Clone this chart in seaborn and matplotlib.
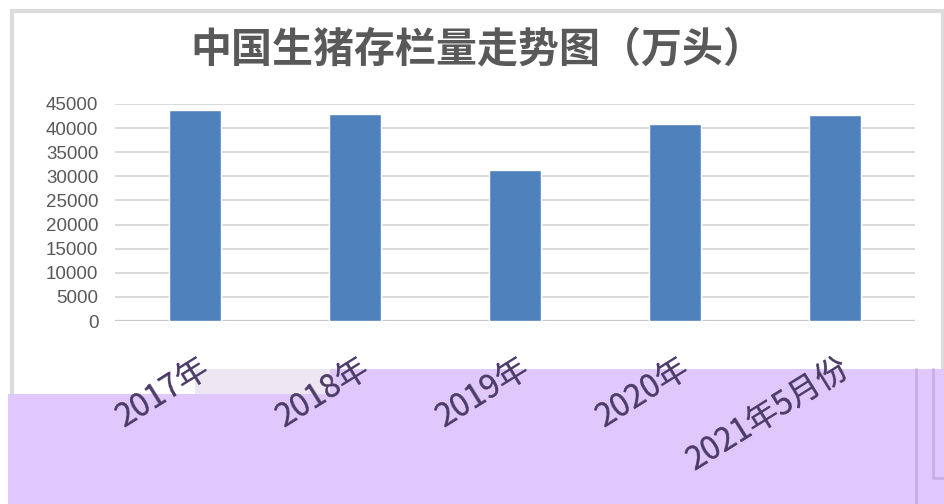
import matplotlib
matplotlib.use("Agg")
import matplotlib.pyplot as plt
import matplotlib.transforms as mtransforms
import seaborn as sns
import pandas as pd
from matplotlib.patches import Rectangle, Polygon
from matplotlib.lines import Line2D

categories = ["2017年", "2018年", "2019年", "2020年", "2021年5月份"]
values = [43700, 42900, 31300, 40800, 42700]
yticks = [0, 5000, 10000, 15000, 20000, 25000, 30000, 35000, 40000, 45000]
title = "中国生猪存栏量走势图（万头）"

sns.set_theme(style="white")
plt.rcParams['font.family'] = ['Noto Sans CJK SC', 'DejaVu Sans']

W, H = 945, 504
fig = plt.figure(figsize=(W / 100, H / 100), dpi=100, facecolor="white")

def fx(px):
    return px / W

def fy(py):
    return 1 - py / H

ax = fig.add_axes([fx(115), fy(321), fx(915) - fx(115), fy(104) - fy(321)])
df = pd.DataFrame({"cat": categories, "val": values})
sns.barplot(data=df, x="cat", y="val", color="#4F81BD", width=0.32,
            saturation=1, ax=ax, zorder=3)
ax.set_xlim(-0.5, 4.5)
ax.set_ylim(0, 45000)
ax.set_yticks(yticks)
ax.set_yticklabels([str(v) for v in yticks], fontsize=13.5, color="#595959",
                   family=['Liberation Sans', 'DejaVu Sans'])
ax.set_xlabel("")
ax.set_ylabel("")
for s in ax.spines.values():
    s.set_visible(False)
ax.yaxis.grid(True, color="#D9D9D9", linewidth=1.4, zorder=0)
ax.set_axisbelow(True)
ax.axhline(0, color="#C8C8C8", linewidth=1.6, zorder=2)
ax.tick_params(axis="y", length=0, pad=12)

LABEL_PAD = 32
LABEL_SIZE = 23
LABEL_ROT = 32
offset = mtransforms.ScaledTranslation(12 / 100, 0, fig.dpi_scale_trans)

# purple overlay region (figure fraction polygon)
purple_poly = [(fx(8), fy(394)), (fx(195), fy(394)), (fx(195), fy(369)),
               (fx(945), fy(369)), (fx(945), fy(504)), (fx(8), fy(504))]
white_poly = [(0, 1), (1, 1), (1, fy(369)), (fx(195), fy(369)),
              (fx(195), fy(394)), (0, fy(394))]

# frame border
fig.add_artist(Rectangle((fx(12), fy(500)), fx(943) - fx(12), fy(11) - fy(500),
                         transform=fig.transFigure, fill=False,
                         edgecolor="#DCDCDC", linewidth=3, zorder=-3))
fig.add_artist(Polygon(purple_poly, closed=True, transform=fig.transFigure,
                       facecolor="#E0C8FC", edgecolor="none", zorder=-2))
fig.add_artist(Rectangle((fx(195), fy(394)), fx(330) - fx(195), fy(369) - fy(394),
                         transform=fig.transFigure, facecolor="#EEE6F2",
                         edgecolor="none", zorder=-1.5))
fig.add_artist(Line2D([fx(916), fx(916)], [fy(369), fy(504)],
                      transform=fig.transFigure, color="#C8AEE8", lw=2, zorder=-1))
fig.add_artist(Line2D([fx(933), fx(933), fx(945)], [fy(369), fy(478), fy(478)],
                      transform=fig.transFigure, color="#C8AEE8", lw=2, zorder=-1))

ax.patch.set_alpha(0)
xt = ax.get_xticks()
ax.set_xticks(xt)
ax.set_xticklabels(categories, rotation=LABEL_ROT, ha="right", va="center",
                   rotation_mode="anchor", fontsize=LABEL_SIZE, color="#595959")
ax.tick_params(axis="x", length=0, pad=LABEL_PAD)
white_clip = Polygon(white_poly, closed=True, transform=fig.transFigure)
for lab in ax.get_xticklabels():
    lab.set_clip_path(white_clip)
    lab.set_transform(lab.get_transform() + offset)

# twin axis for label parts over the purple band
ax2 = ax.twiny()
ax2.set_xlim(ax.get_xlim())
ax2.set_xticks(xt)
ax2.xaxis.set_ticks_position("bottom")
ax2.set_xticklabels(categories, rotation=LABEL_ROT, ha="right", va="center",
                    rotation_mode="anchor", fontsize=LABEL_SIZE, color="#4E3B6E")
ax2.tick_params(axis="x", length=0, pad=LABEL_PAD)
for s in ax2.spines.values():
    s.set_visible(False)
ax2.patch.set_alpha(0)
purple_clip = Polygon(purple_poly, closed=True, transform=fig.transFigure)
for lab in ax2.get_xticklabels():
    lab.set_clip_path(purple_clip)
    lab.set_transform(lab.get_transform() + offset)

fig.text(0.505, fy(49), title, ha="center", va="center", fontsize=29.5,
         fontweight="bold", color="#595959")

fig.savefig("out.png", dpi=100, facecolor="white")
